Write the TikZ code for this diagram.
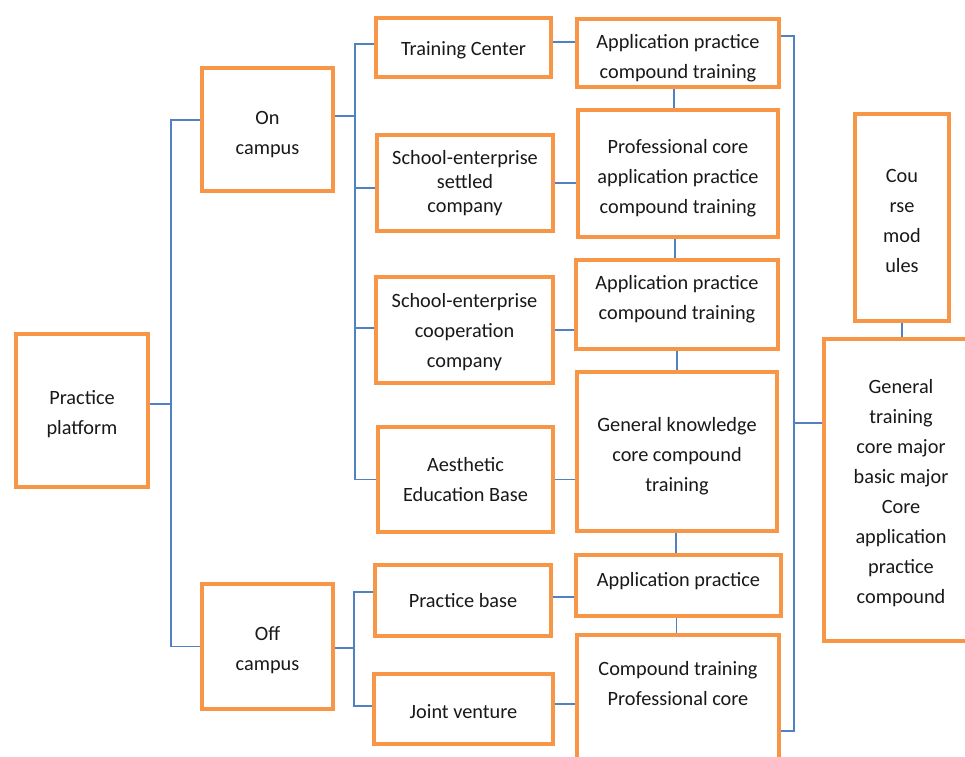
\documentclass[tikz,border=0pt]{standalone}
\usepackage{fontspec}
\setmainfont{Carlito}
\definecolor{boxorange}{RGB}{247,150,70}
\definecolor{linkblue}{RGB}{79,129,196}
\newcommand{\toppad}[1]{\rule{0pt}{#1pt}}
\newcommand{\botpad}[1]{\rule[-#1pt]{0pt}{#1pt}}
\tikzset{
  box/.style={draw=boxorange, line width=3.6pt, fill=white, rectangle, inner sep=0pt,
    align=center, font={\fontsize{20.3}{30}\selectfont}, text=black!90},
  plain/.style={inner sep=0pt, align=center, font={\fontsize{20.3}{30}\selectfont}, text=black!90},
  link/.style={draw=linkblue, line width=1.3pt},
}
\begin{document}
\begin{tikzpicture}[x=1pt,y=-1pt]
\useasboundingbox (0,0) rectangle (965,756);
\clip (0,0) rectangle (965,756);
\fill[white] (0,0) rectangle (965,756);

% left column
\node[box, minimum width=132, minimum height=153] (pp) at (82,410.5) {\toppad{20.5}Practice\\platform};
\node[box, minimum width=131, minimum height=123] (on) at (267.5,129.5) {\toppad{22.5}On\\campus};
\node[box, minimum width=131, minimum height=125] (off) at (267.5,646.5) {\toppad{20.5}Off\\campus};

% second column
\node[box, minimum width=175, minimum height=59] (tc) at (463.5,47.5) {\toppad{20}Training Center};
\node[box, minimum width=176, minimum height=96, font={\fontsize{20.3}{24}\selectfont}] (sc) at (465,183) {School-enterprise\\settled\\company};
\node[box, minimum width=177, minimum height=106] (cc) at (464.5,330) {\toppad{18.5}School-enterprise\\cooperation\\company};
\node[box, minimum width=175, minimum height=105] (ae) at (465.5,479.5) {Aesthetic\\Education Base};
\node[box, minimum width=176, minimum height=71] (pb) at (463,600.5) {Practice base};
\node[box, minimum width=179, minimum height=70] (jv) at (463.5,709) {\toppad{18.5}Joint venture};

% third column
\node[box, minimum width=202, minimum height=68] (a1) at (678,53) {\toppad{24.5}Application practice\\compound training};
\node[box, minimum width=200, minimum height=127] (pc) at (678,173.5) {\toppad{22.5}Professional core\\application practice\\compound training};
\node[box, minimum width=202, minimum height=89] (a2) at (677,304.5) {Application practice\\compound training\botpad{14}};
\node[box, minimum width=200, minimum height=159] (gk) at (677,451.5) {\toppad{22.5}General knowledge\\core compound\\training};
\node[box, minimum width=205, minimum height=61] (ap) at (678.5,585.5) {Application practice\botpad{13}};
\node[box, minimum width=202, minimum height=155] (ct) at (678,712.5) {};
\node[plain] (ctt) at (678,684) {Compound training\\Professional core};

% right column
\node[box, minimum width=94, minimum height=207] (cm) at (902,217.5) {\toppad{19.5}Cou\\rse\\mod\\ules};
\node[box, minimum width=154, minimum height=302] (gt) at (901,490) {\toppad{20.5}General\\training\\core major\\basic major\\Core\\application\\practice\\compound};

% helper coordinates
\coordinate (t1) at (171,0);
\coordinate (t2) at (355,0);
\coordinate (t3) at (354,0);
\coordinate (t4) at (794,0);
\coordinate (ppo) at ([yshift=6.5]pp.east);
\coordinate (onw) at ([yshift=9.5]on.west);
\coordinate (one) at ([yshift=13.5]on.east);
\coordinate (tcw) at ([yshift=3.5]tc.west);
\coordinate (scw) at ([yshift=-5]sc.west);
\coordinate (ccw) at ([yshift=2]cc.west);
\coordinate (offe) at ([yshift=-1.5]off.east);
\coordinate (pbw) at ([yshift=8.5]pb.west);
\coordinate (jvw) at ([yshift=3]jv.west);
\coordinate (tce) at ([yshift=5.5]tc.east);
\coordinate (pbe) at ([yshift=3.5]pb.east);
\coordinate (jve) at ([yshift=5]jv.east);
\coordinate (a1e) at ([yshift=17]a1.east);
\coordinate (cte) at ([yshift=-18.5]ct.east);
\coordinate (gtw) at ([yshift=67]gt.west);

% left trunk
\draw[link] (ppo) -- (ppo -| t1);
\draw[link] (onw) -- (onw -| t1) -- (t1 |- off.west) -- (off.west);

% on-campus trunk
\draw[link] (one) -- (one -| t2);
\draw[link] (tcw) -- (tcw -| t2) -- (t2 |- ae.west) -- (ae.west);
\draw[link] (scw) -- (scw -| t2);
\draw[link] (ccw) -- (ccw -| t2);

% off-campus trunk
\draw[link] (offe) -- (offe -| t3);
\draw[link] (pbw) -- (pbw -| t3) -- (t3 |- jvw) -- (jvw);

% second to third column
\draw[link] (tce) -- (tce -| a1.west);
\draw[link] (sc.east) -- (sc.east -| pc.west);
\draw[link] (cc.east) -- (cc.east -| a2.west);
\draw[link] (ae.east) -- (ae.east -| gk.west);
\draw[link] (pbe) -- (pbe -| ap.west);
\draw[link] (jve) -- (jve -| ct.west);

% vertical chain of third column
\draw[link] ([xshift=-4]a1.south) -- ([xshift=-4]a1.south |- pc.north);
\draw[link] ([xshift=-3]pc.south) -- ([xshift=-3]pc.south |- a2.north);
\draw[link] (a2.south) -- (a2.south |- gk.north);
\draw[link] ([xshift=-1]gk.south) -- ([xshift=-1]gk.south |- ap.north);
\draw[link] ([xshift=-2]ap.south) -- ([xshift=-2]ap.south |- ct.north);

% right bracket
\draw[link] (a1e) -- (a1e -| t4) -- (t4 |- cte) -- (cte);
\draw[link] (gtw) -- (gtw -| t4);
\draw[link] (cm.south) -- (cm.south |- gt.north);
\end{tikzpicture}
\end{document}
